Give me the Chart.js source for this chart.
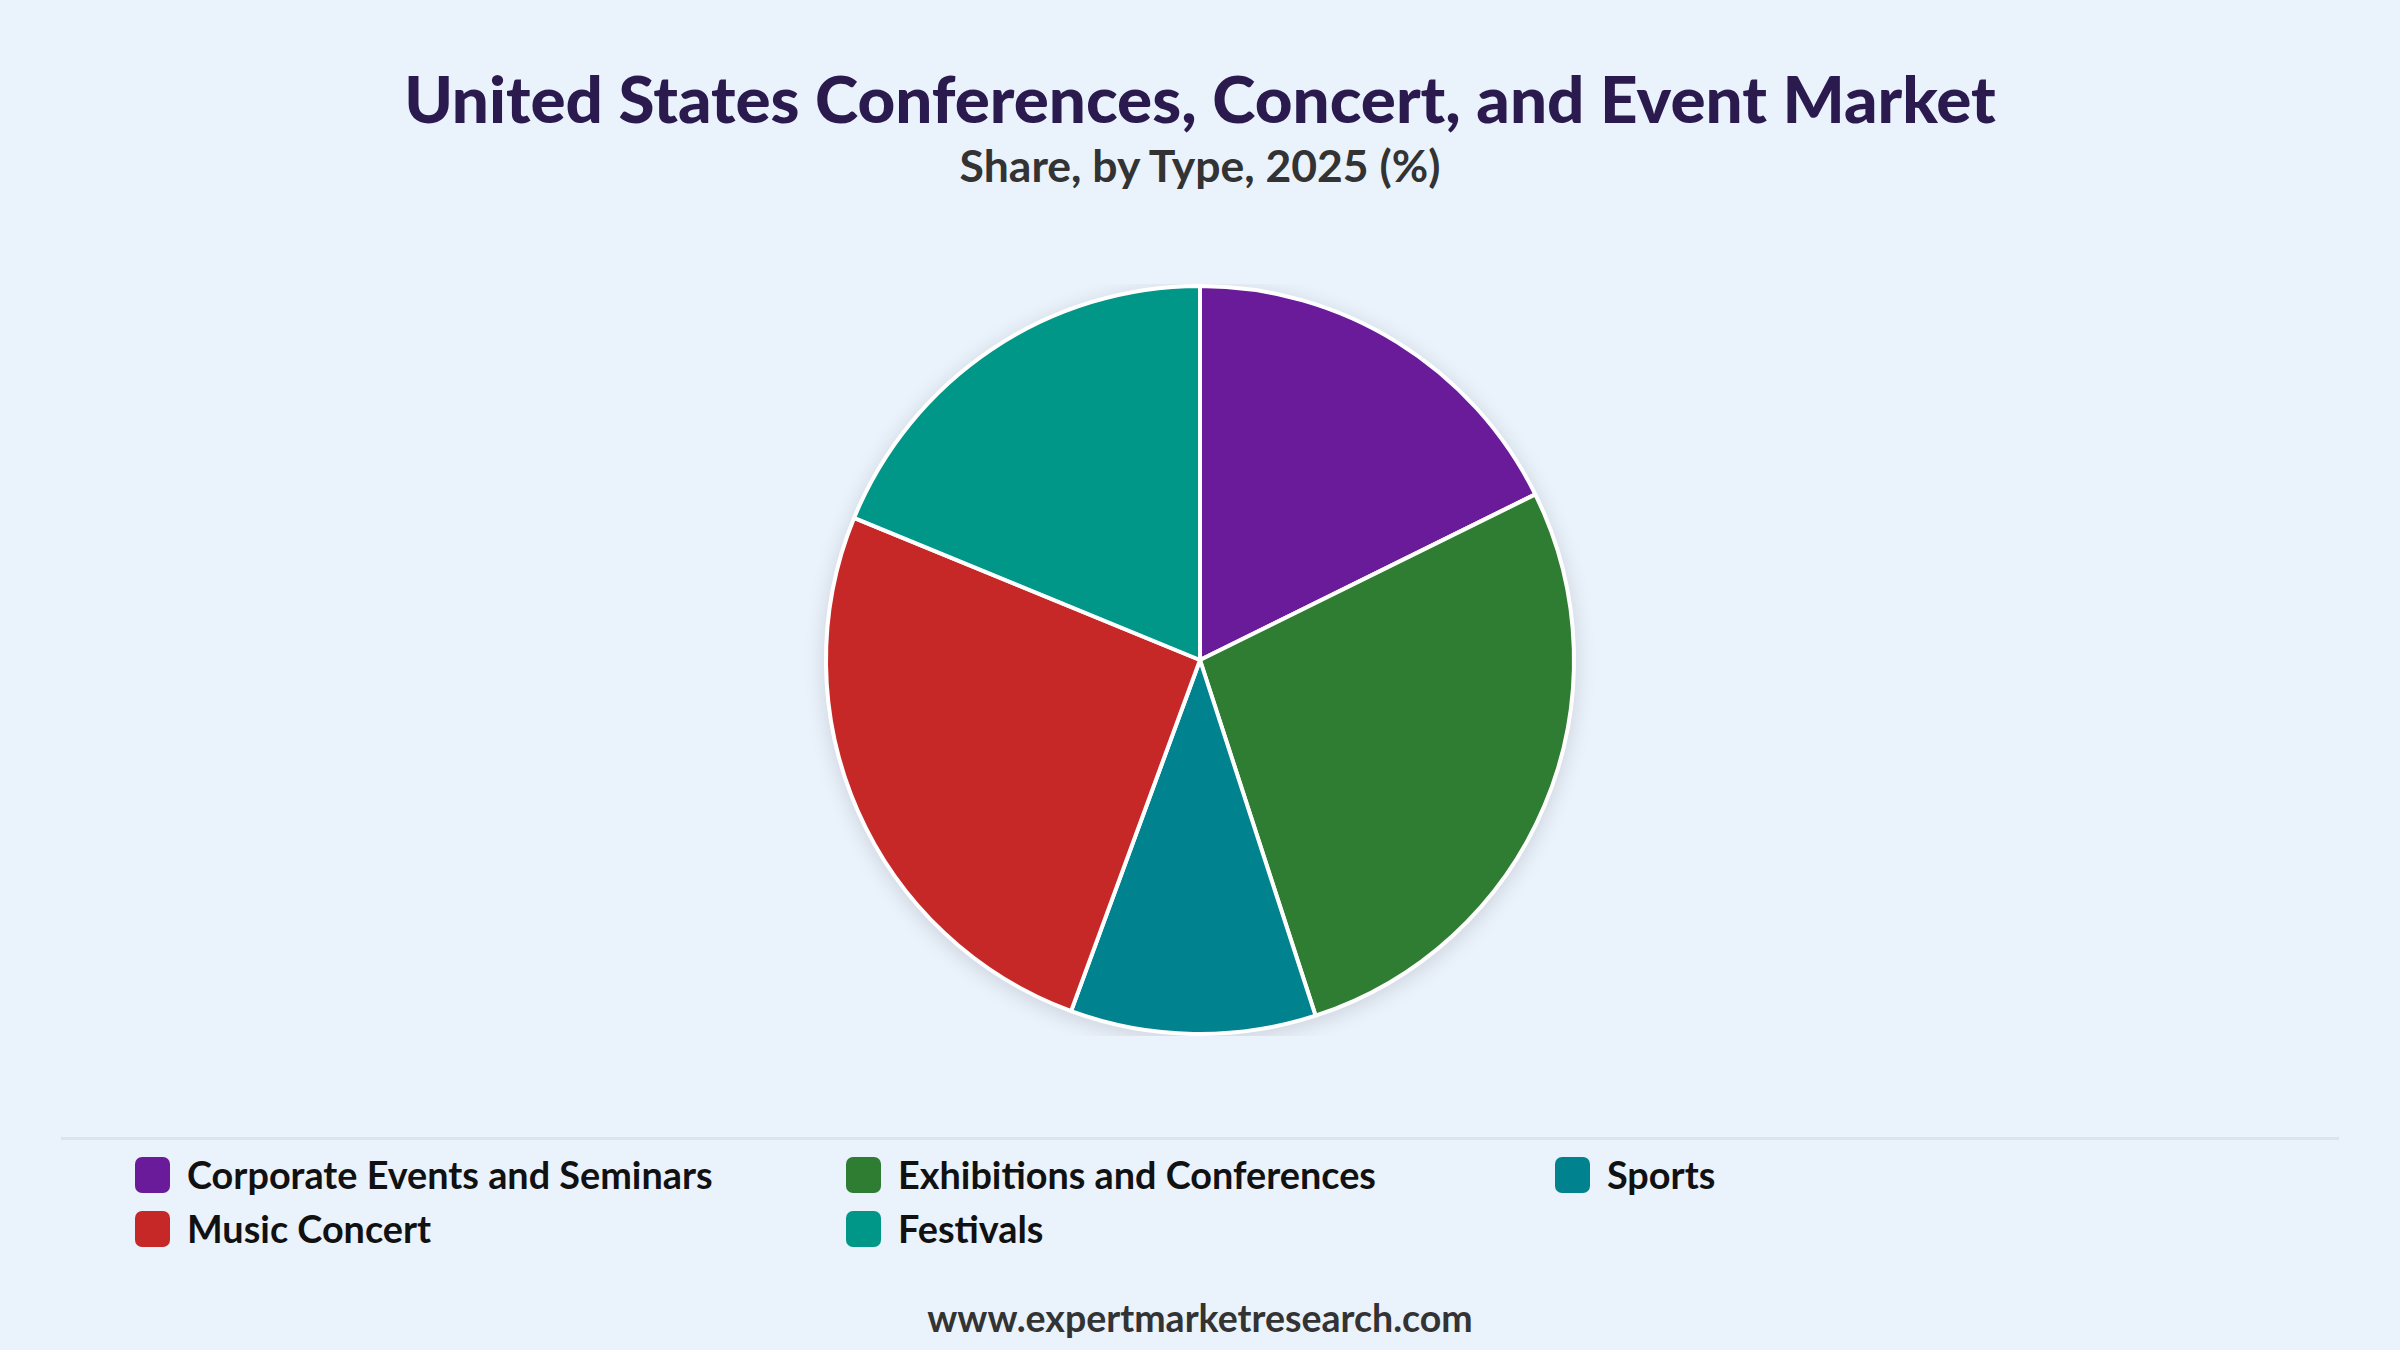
<!DOCTYPE html>
<html>
<head>
<meta charset="utf-8">
<script src="https://cdn.jsdelivr.net/npm/chart.js@4.4.1/dist/chart.umd.min.js"></script>
<style>
  html, body { margin: 0; padding: 0; }
  body {
    width: 2400px; height: 1350px; background: #eaf2fc; position: relative;
    font-family: "Lato", "Noto Sans", sans-serif; overflow: hidden;
  }
  #title {
    position: absolute; top: 60px; left: 0; width: 2400px; text-align: center;
    font-size: 65.5px; font-weight: 900; color: #2b1a4e; line-height: 76px;
  }
  #subtitle {
    position: absolute; top: 139px; left: 0; width: 2400px; text-align: center;
    font-size: 44.5px; font-weight: 700; color: #333; line-height: 52px;
  }
  #pieBox { position: absolute; left: 0; top: 284px; width: 2400px; height: 752px; }
  #divider { position: absolute; left: 61px; width: 2278px; top: 1137px; height: 3px; background: #dde3ea; }
  #legend {
    position: absolute; left: 135px; top: 1156px;
    display: grid; grid-template-columns: 711px 709px 400px; row-gap: 17px;
  }
  .item { display: flex; align-items: center; height: 37px; font-size: 37.8px; font-weight: 700; color: #111; }
  .box { width: 35px; height: 36px; border-radius: 7px; margin-right: 17px; }
  #footer {
    position: absolute; top: 1295px; left: 0; width: 2400px; text-align: center;
    font-size: 37.5px; font-weight: 700; color: #333;
  }
</style>
</head>
<body>
<div id="title">United States Conferences, Concert, and Event Market</div>
<div id="subtitle">Share, by Type, 2025 (%)</div>
<div id="pieBox"><canvas id="pie"></canvas></div>
<div id="divider"></div>
<div id="legend"></div>
<div id="footer">www.expertmarketresearch.com</div>
<script>
const categories = ["Corporate Events and Seminars", "Exhibitions and Conferences", "Sports", "Music Concert", "Festivals"];
const shares = [17.7, 27.3, 10.6, 25.6, 18.8];
const colors = ["#6a1b9a", "#2e7d32", "#00838f", "#c62828", "#009688"];

// soft shadow behind the whole pie
const pieShadow = {
  id: "pieShadow",
  beforeDatasetsDraw(chart) {
    const arc = chart.getDatasetMeta(0).data[0];
    if (!arc) return;
    const ctx = chart.ctx;
    ctx.save();
    ctx.shadowColor = "rgba(0, 0, 0, 0.14)";
    ctx.shadowBlur = 22;
    ctx.shadowOffsetY = 4;
    ctx.fillStyle = "#eaf2fc";
    ctx.beginPath();
    ctx.arc(arc.x, arc.y, arc.outerRadius + 1, 0, Math.PI * 2);
    ctx.fill();
    ctx.restore();
  },
};

new Chart(document.getElementById("pie"), {
  type: "pie",
  data: {
    labels: categories,
    datasets: [{
      data: shares,
      backgroundColor: colors,
      borderColor: "#ffffff",
      borderWidth: 4,
    }],
  },
  options: {
    responsive: true,
    maintainAspectRatio: false,
    animation: false,
    layout: { padding: 0 },
    plugins: {
      legend: { display: false },
      tooltip: { enabled: false },
    },
  },
  plugins: [pieShadow],
});

const legend = document.getElementById("legend");
categories.forEach((name, i) => {
  const item = document.createElement("div");
  item.className = "item";
  const box = document.createElement("span");
  box.className = "box";
  box.style.background = colors[i];
  item.appendChild(box);
  item.appendChild(document.createTextNode(name));
  legend.appendChild(item);
});
</script>
</body>
</html>
